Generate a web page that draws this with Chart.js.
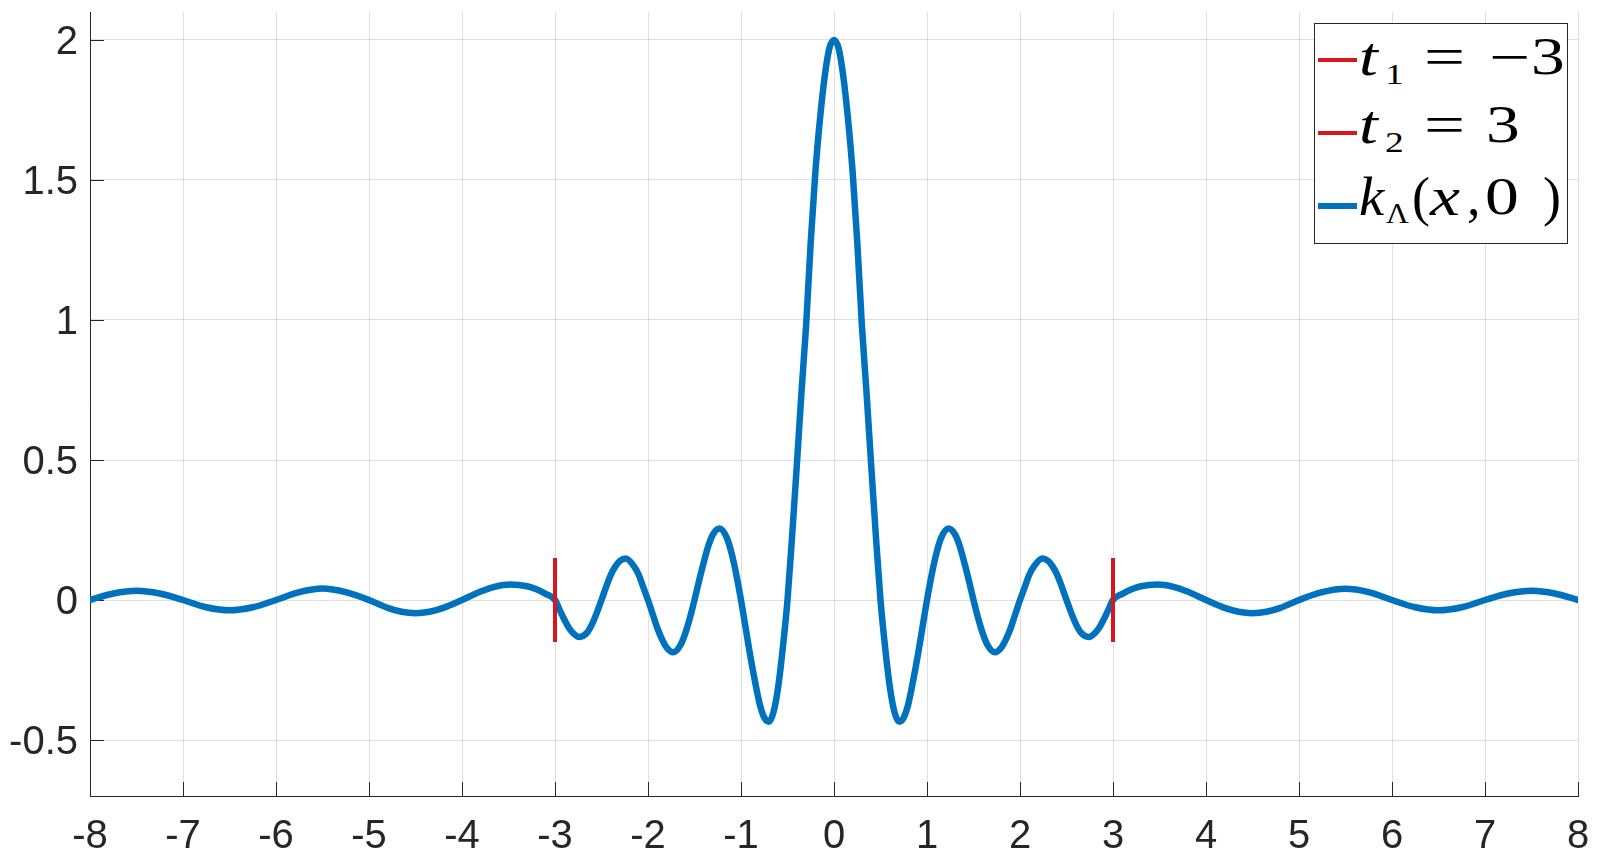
<!DOCTYPE html>
<html>
<head>
<meta charset="utf-8">
<script src="https://cdn.jsdelivr.net/npm/chart.js@4.4.1/dist/chart.umd.min.js"></script>
<style>
  html, body { margin: 0; padding: 0; background: #ffffff; }
  #wrap { position: relative; width: 1600px; height: 860px; overflow: hidden; }
  #c { position: absolute; left: 0; top: 0; }
  #legend { position: absolute; left: 1314px; top: 23px; width: 252px; height: 219px;
            border: 1px solid #262626; background: #ffffff; }
  .tok { position: absolute; font-family: "Liberation Serif", serif; line-height: 1; white-space: nowrap; color: #000; transform-origin: left center; }
  .swatch { position: absolute; }
</style>
</head>
<body>
<div id="wrap">
  <canvas id="c" width="1600" height="860"></canvas>
  <div id="legend"></div>
</div>
<script>
// ---------- data ----------
const xNeg = [-8, -7.75, -7.5, -7.25, -7, -6.75, -6.5, -6.25, -6, -5.75, -5.5, -5.25, -5,
  -4.8, -4.65, -4.5, -4.35, -4.2, -4, -3.8, -3.65, -3.48, -3.3, -3.2, -3.1, -3,
  -2.95, -2.9, -2.85, -2.8, -2.74, -2.65, -2.6, -2.55, -2.5,
  -2.45, -2.4, -2.35, -2.3, -2.24, -2.15, -2.1, -2.05, -2,
  -1.95, -1.9, -1.85, -1.8, -1.73, -1.65, -1.6, -1.55, -1.5,
  -1.45, -1.4, -1.35, -1.3, -1.23, -1.15, -1.1, -1.05, -1,
  -0.95, -0.9, -0.85, -0.8, -0.75, -0.7, -0.65, -0.6, -0.55, -0.5,
  -0.45, -0.4, -0.35, -0.3, -0.25, -0.2, -0.15, -0.1, -0.05];
const kNeg = [0, 0.023, 0.033, 0.023, 0, -0.026, -0.037, -0.026, 0, 0.028, 0.041, 0.028, 0,
  -0.028, -0.042, -0.047, -0.042, -0.028, 0, 0.03, 0.047, 0.055, 0.049, 0.038, 0.022, 0,
  -0.035, -0.07, -0.1, -0.12, -0.132, -0.115, -0.085, -0.045, 0,
  0.047, 0.09, 0.12, 0.14, 0.148, 0.12, 0.09, 0.045, 0,
  -0.05, -0.1, -0.14, -0.17, -0.187, -0.16, -0.12, -0.065, 0,
  0.07, 0.135, 0.195, 0.235, 0.255, 0.22, 0.165, 0.09, 0,
  -0.1, -0.2, -0.29, -0.37, -0.42, -0.435, -0.40, -0.31, -0.17, 0,
  0.23, 0.48, 0.74, 0.98, 1.28, 1.53, 1.72, 1.87, 1.97];
const xPos = [0, 0.05, 0.1, 0.15, 0.2, 0.25, 0.3, 0.35, 0.4, 0.45, 0.5, 0.55, 0.6, 0.65, 0.7, 0.75, 0.8, 0.85, 0.9, 0.95, 1.0,
  1.05, 1.1, 1.15, 1.23, 1.3, 1.35, 1.4, 1.45, 1.5,
  1.55, 1.6, 1.65, 1.73, 1.8, 1.85, 1.9, 1.95, 2.0,
  2.05, 2.1, 2.15, 2.24, 2.3, 2.35, 2.4, 2.45, 2.5,
  2.55, 2.6, 2.65, 2.74, 2.8, 2.85, 2.9, 2.95, 3.0,
  3.1, 3.2, 3.3, 3.48, 3.65, 3.8, 4.0,
  4.2, 4.35, 4.5, 4.65, 4.8, 5.0,
  5.25, 5.5, 5.75, 6.0, 6.25, 6.5, 6.75, 7.0, 7.25, 7.5, 7.75, 8.0];
const kPos = [2.0, 1.97, 1.87, 1.72, 1.53, 1.28, 0.98, 0.74, 0.48, 0.23, 0, -0.17, -0.31, -0.40, -0.435, -0.42, -0.37, -0.29, -0.2, -0.1, 0,
  0.09, 0.165, 0.22, 0.255, 0.235, 0.195, 0.135, 0.07, 0,
  -0.065, -0.12, -0.16, -0.187, -0.17, -0.14, -0.1, -0.05, 0,
  0.045, 0.09, 0.12, 0.148, 0.14, 0.12, 0.09, 0.047, 0,
  -0.045, -0.085, -0.115, -0.132, -0.12, -0.1, -0.07, -0.035, 0,
  0.022, 0.038, 0.049, 0.055, 0.047, 0.03, 0,
  -0.028, -0.042, -0.047, -0.042, -0.028, 0,
  0.028, 0.04, 0.028, 0, -0.026, -0.037, -0.026, 0, 0.023, 0.033, 0.023, 0];

const t1 = -3;
const t2 = 3;
const markerSpan = [-0.15, 0.15];

const xTicks = [-8, -7, -6, -5, -4, -3, -2, -1, 0, 1, 2, 3, 4, 5, 6, 7, 8];
const xTickLabels = ['-8', '-7', '-6', '-5', '-4', '-3', '-2', '-1', '0', '1', '2', '3', '4', '5', '6', '7', '8'];
const yTicks = [-0.5, 0, 0.5, 1, 1.5, 2];
const yTickLabels = ['-0.5', '0', '0.5', '1', '1.5', '2'];
const xRange = [-8, 8];
const yRange = [-0.7, 2.1];

// ---------- build datasets ----------
const xAll = xNeg.concat(xPos);
const kAll = kNeg.concat(kPos);
const kData = xAll.map((x, i) => ({ x: x, y: kAll[i] }));
const t1Data = markerSpan.map(v => ({ x: t1, y: v }));
const t2Data = markerSpan.map(v => ({ x: t2, y: v }));

const AX = '#262626';
const GRID = 'rgba(38,38,38,0.15)';
const BLUE = '#0072BD';
const RED = '#D7161E';

const inwardTicks = {
  id: 'inwardTicks',
  beforeDatasetsDraw(chart) {
    const { ctx, chartArea } = chart;
    const xs = chart.scales.x, ys = chart.scales.y;
    ctx.save();
    ctx.strokeStyle = AX;
    ctx.lineWidth = 1;
    ctx.beginPath();
    xTicks.forEach(v => {
      const p = Math.round(xs.getPixelForValue(v)) + 0.5;
      ctx.moveTo(p, chartArea.bottom);
      ctx.lineTo(p, chartArea.bottom - 14);
    });
    yTicks.forEach(v => {
      const p = Math.round(ys.getPixelForValue(v)) + 0.5;
      ctx.moveTo(chartArea.left, p);
      ctx.lineTo(chartArea.left + 14, p);
    });
    ctx.stroke();
    ctx.restore();
  }
};

new Chart(document.getElementById('c'), {
  type: 'scatter',
  data: {
    datasets: [
      { label: 't1 = -3', data: t1Data, showLine: true, borderColor: RED, borderWidth: 4,
        pointRadius: 0, borderCapStyle: 'butt' },
      { label: 't2 = 3', data: t2Data, showLine: true, borderColor: RED, borderWidth: 4,
        pointRadius: 0, borderCapStyle: 'butt' },
      { label: 'k(x,0)', data: kData, showLine: true, borderColor: BLUE, borderWidth: 6.5,
        pointRadius: 0, cubicInterpolationMode: 'monotone', borderJoinStyle: 'round', borderCapStyle: 'round' }
    ]
  },
  options: {
    responsive: false,
    animation: false,
    devicePixelRatio: 1,
    layout: { padding: { top: 12, right: 22, left: 0, bottom: 0 } },
    plugins: { legend: { display: false }, tooltip: { enabled: false } },
    scales: {
      x: {
        type: 'linear', min: xRange[0], max: xRange[1],
        afterBuildTicks: s => { s.ticks = xTicks.map(v => ({ value: v })); },
        afterFit: s => { s.height = 64; s.paddingLeft = 0; s.paddingRight = 0; },
        grid: { color: GRID, lineWidth: 1, drawTicks: false },
        border: { display: true, color: AX, width: 1 },
        ticks: {
          padding: 17, color: AX, maxRotation: 0, autoSkip: false,
          font: { family: 'Liberation Sans, Arial, sans-serif', size: 40 },
          callback: (v) => { const i = xTicks.indexOf(v); return i >= 0 ? xTickLabels[i] : ''; }
        }
      },
      y: {
        type: 'linear', min: yRange[0], max: yRange[1],
        afterBuildTicks: s => { s.ticks = yTicks.map(v => ({ value: v })); },
        afterFit: s => { s.width = 90; s.paddingTop = 0; s.paddingBottom = 0; },
        grid: { color: GRID, lineWidth: 1, drawTicks: false },
        border: { display: true, color: AX, width: 1 },
        ticks: {
          padding: 12, labelOffset: 3, color: AX, autoSkip: false,
          font: { family: 'Liberation Sans, Arial, sans-serif', size: 40 },
          callback: (v) => { const i = yTicks.indexOf(v); return i >= 0 ? yTickLabels[i] : ''; }
        }
      }
    }
  },
  plugins: [inwardTicks]
});

// ---------- legend (math-style text) ----------
const legendEntries = [
  { color: RED, width: 4, lineY: 60 },
  { color: RED, width: 4, lineY: 133 },
  { color: BLUE, width: 6, lineY: 206 }
];
// tokens: [text, left, baseline, size, italic, scaleX]
const legendTokens = [
  ['t', 1359, 75, 54, true, 1.25], ['1', 1385, 84, 30, false, 1.25], ['=', 1424, 75, 54, false, 1.35], ['\u2212', 1489, 75, 54, false, 1.35], ['3', 1531, 75, 52, false, 1.3],
  ['t', 1359, 143, 54, true, 1.25], ['2', 1385, 152, 30, false, 1.25], ['=', 1424, 143, 54, false, 1.35], ['3', 1486, 143, 52, false, 1.3],
  ['k', 1359, 215, 54, true, 1.05], ['\u039B', 1386, 223, 30, false, 1.05], ['(', 1412, 215, 54, false, 1], ['x', 1430, 215, 54, true, 1.25], [',', 1467, 215, 54, false, 1], ['0', 1485, 215, 52, false, 1.3], [')', 1543, 215, 54, false, 1]
];
const wrap = document.getElementById('wrap');
legendEntries.forEach(e => {
  const d = document.createElement('div');
  d.className = 'swatch';
  d.style.left = '1318px';
  d.style.width = '39px';
  d.style.top = (e.lineY - e.width / 2) + 'px';
  d.style.height = e.width + 'px';
  d.style.background = e.color;
  wrap.appendChild(d);
});
legendTokens.forEach(t => {
  const s = document.createElement('span');
  s.className = 'tok';
  s.textContent = t[0];
  s.style.fontSize = t[3] + 'px';
  s.style.left = t[1] + 'px';
  s.style.top = (t[2] - 0.8375 * t[3]) + 'px';
  if (t[4]) s.style.fontStyle = 'italic';
  if (t[5] !== 1) s.style.transform = 'scaleX(' + t[5] + ')';
  wrap.appendChild(s);
});
</script>
</body>
</html>
